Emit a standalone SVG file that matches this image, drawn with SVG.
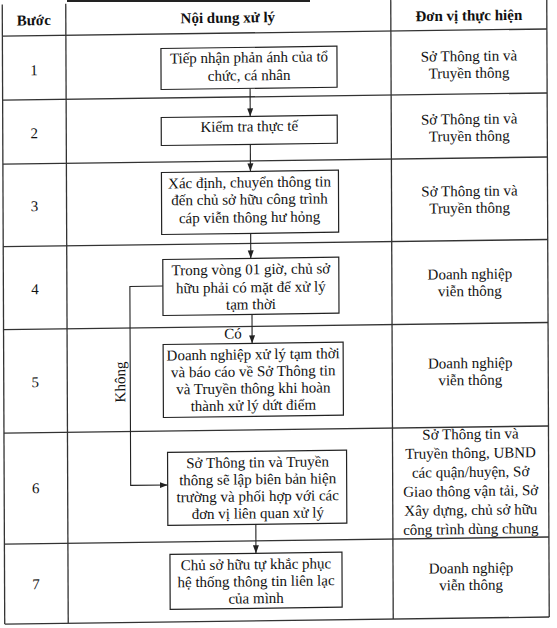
<svg xmlns="http://www.w3.org/2000/svg" width="557" height="628" viewBox="0 0 557 628">
<style>
text{font-family:"Liberation Serif","Times New Roman",serif;font-size:15px;fill:#111;text-anchor:middle}
.h{font-weight:bold}
.grid{stroke:#333;stroke-width:1.3;fill:none}
.box{fill:#fff;stroke:#222;stroke-width:1.2}
.ln{stroke:#222;stroke-width:1.1;fill:none}
</style>
<defs>
<marker id="ah" viewBox="0 0 8 8" refX="8" refY="4" markerWidth="8" markerHeight="8" markerUnits="userSpaceOnUse" orient="auto">
<path d="M0,1 L8,4 L0,7 z" fill="#222"/>
</marker>
</defs>
<rect width="557" height="628" fill="#fff"/>
<line x1="67" y1="1" x2="310" y2="1" stroke="#222" stroke-width="2"/>
<g transform="matrix(1,-0.013,0.004,1,-1.256,3.614)">
<g id="table">
<line class="grid" x1="3.5" y1="1" x2="3.5" y2="620.5"/>
<line class="grid" x1="548" y1="1" x2="548" y2="620.5"/>
<line class="grid" x1="3.5" y1="620.5" x2="548" y2="620.5"/>
<line class="grid" x1="67" y1="1" x2="67" y2="620.5"/>
<line class="grid" x1="392" y1="1" x2="392" y2="620.5"/>
<line class="grid" x1="3.5" y1="32.5" x2="548" y2="32.5"/>
<line class="grid" x1="3.5" y1="96.5" x2="548" y2="96.5"/>
<line class="grid" x1="3.5" y1="160.5" x2="548" y2="160.5"/>
<line class="grid" x1="3.5" y1="243" x2="548" y2="243"/>
<line class="grid" x1="3.5" y1="326" x2="548" y2="326"/>
<line class="grid" x1="3.5" y1="429.5" x2="548" y2="429.5"/>
<line class="grid" x1="3.5" y1="540.5" x2="548" y2="540.5"/>
<text class="h" x="35" y="22">Bước</text>
<text class="h" x="229" y="22">Nội dung xử lý</text>
<text class="h" x="470" y="23">Đơn vị thực hiện</text>
<text x="35" y="72">1</text>
<text x="35" y="135">2</text>
<text x="35" y="208">3</text>
<text x="35" y="291">4</text>
<text x="35" y="384">5</text>
<text x="35" y="490">6</text>
<text x="35" y="586">7</text>
<text x="470" y="63.5">Sở Thông tin và</text>
<text x="470" y="80.5">Truyền thông</text>
<text x="470" y="126.5">Sở Thông tin và</text>
<text x="470" y="143.5">Truyền thông</text>
<text x="470" y="198.5">Sở Thông tin và</text>
<text x="470" y="215.5">Truyền thông</text>
<text x="470" y="281.5">Doanh nghiệp</text>
<text x="470" y="298.5">viễn thông</text>
<text x="470" y="370.5">Doanh nghiệp</text>
<text x="470" y="387.5">viễn thông</text>
<text x="470" y="441.5">Sở Thông tin và</text>
<text x="470" y="460.5">Truyền thông, UBND</text>
<text x="470" y="479.5">các quận/huyện, Sở</text>
<text x="470" y="498.5">Giao thông vận tải, Sở</text>
<text x="470" y="517.5">Xây dựng, chủ sở hữu</text>
<text x="470" y="536.5">công trình dùng chung</text>
<text x="470" y="575.5">Doanh nghiệp</text>
<text x="470" y="592.5">viễn thông</text>
</g>
<g id="connectors">
<line class="ln" x1="251" y1="88" x2="251" y2="116" marker-end="url(#ah)"/>
<line class="ln" x1="251" y1="144" x2="251" y2="171" marker-end="url(#ah)"/>
<line class="ln" x1="251" y1="233" x2="251" y2="258" marker-end="url(#ah)"/>
<line class="ln" x1="252" y1="314" x2="252" y2="343" marker-end="url(#ah)"/>
<polyline class="ln" points="163,284.5 130,284.5 130,483.5 167,483.5" marker-end="url(#ah)"/>
<line class="ln" x1="255" y1="524" x2="255" y2="553" marker-end="url(#ah)"/>
<text x="233" y="338">Có</text>
<text x="0" y="0" transform="translate(125,380) rotate(-90)">Không</text>
</g>
<g id="n1">
<rect class="box" x="162" y="47" width="176" height="41"/>
<text x="250" y="62">Tiếp nhận phản ánh của tổ</text>
<text x="250" y="80">chức, cá nhân</text>
</g>
<g id="n2">
<rect class="box" x="162" y="116" width="176" height="28"/>
<text x="250" y="131">Kiểm tra thực tế</text>
</g>
<g id="n3">
<rect class="box" x="162" y="171" width="177" height="62"/>
<text x="250" y="187">Xác định, chuyển thông tin</text>
<text x="250" y="204">đến chủ sở hữu công trình</text>
<text x="250" y="222">cáp viễn thông hư hỏng</text>
</g>
<g id="n4">
<rect class="box" x="163" y="258" width="176" height="56"/>
<text x="251" y="274">Trong vòng 01 giờ, chủ sở</text>
<text x="251" y="292">hữu phải có mặt để xử lý</text>
<text x="251" y="309">tạm thời</text>
</g>
<g id="n5">
<rect class="box" x="163" y="343" width="180" height="73"/>
<text x="253" y="359">Doanh nghiệp xử lý tạm thời</text>
<text x="253" y="376">và báo cáo về Sở Thông tin</text>
<text x="253" y="393">và Truyền thông khi hoàn</text>
<text x="253" y="410">thành xử lý dứt điểm</text>
</g>
<g id="n6">
<rect class="box" x="167" y="451" width="179" height="73"/>
<text x="257" y="467">Sở Thông tin và Truyền</text>
<text x="257" y="484">thông sẽ lập biên bản hiện</text>
<text x="257" y="501">trường và phối hợp với các</text>
<text x="257" y="518">đơn vị liên quan xử lý</text>
</g>
<g id="n7">
<rect class="box" x="169" y="553" width="172" height="55"/>
<text x="255" y="569">Chủ sở hữu tự khắc phục</text>
<text x="255" y="586">hệ thống thông tin liên lạc</text>
<text x="255" y="603">của mình</text>
</g>
</g>
</svg>
